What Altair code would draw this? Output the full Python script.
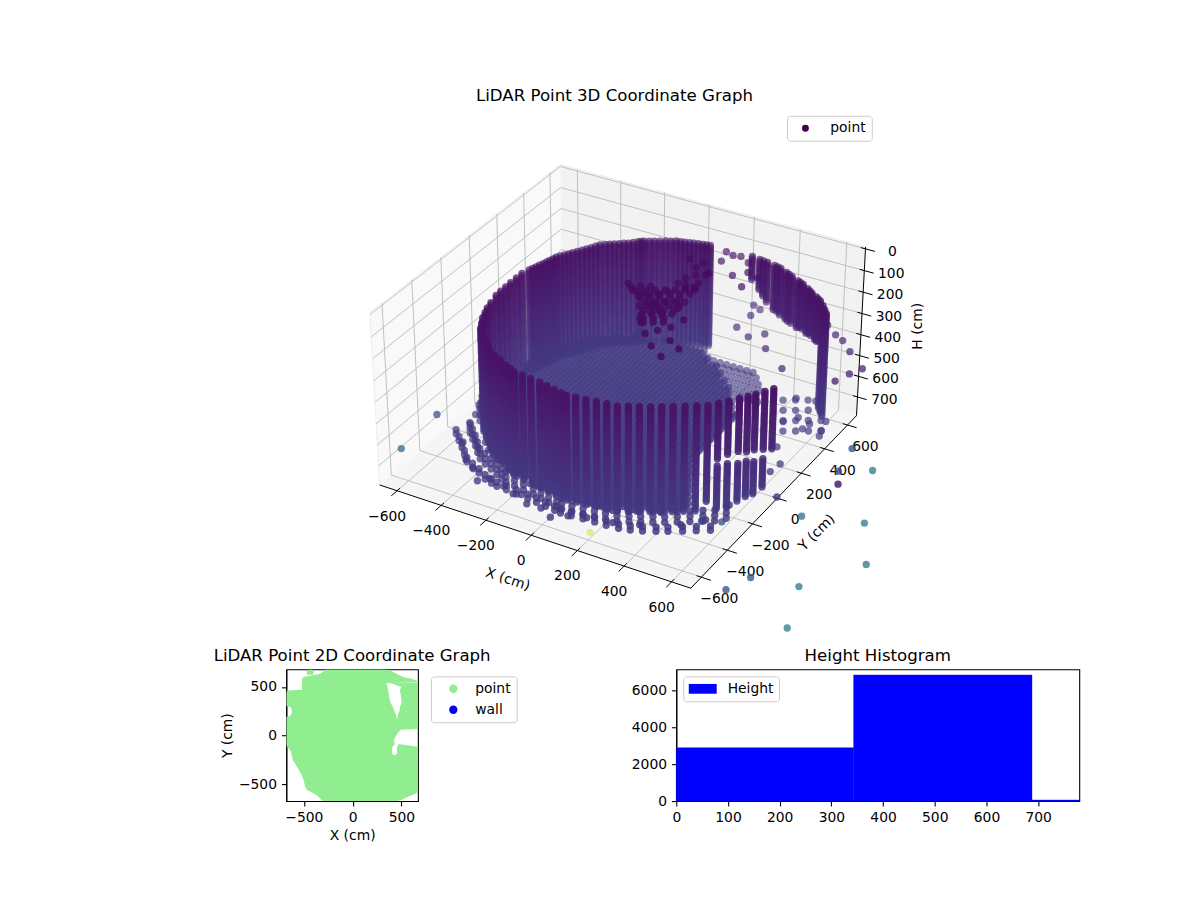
import numpy as np
import altair as alt

FONT = "DejaVu Sans"
TICK = 13.9
HEAD = 16.67

# ---------- 3D axes ----------
XLIM = (-680.0, 680.0)
YLIM = (-680.0, 680.0)
ZTOP, ZBOT = -9.0, 792.0
x_ticks = [-600, -400, -200, 0, 200, 400, 600]
y_ticks = [-600, -400, -200, 0, 200, 400, 600]
z_ticks = [0, 100, 200, 300, 400, 500, 600, 700]

# ---------- wall columns: X, Y, top H, bottom H ----------
wall_x = [-442,-460,-478,-490,-503,-512,-523,-526,-527,-528,-528,-528,-518,-508,-497,-488,-479,-461,-442,-420,-400,-381,-350,-320,-290,-262,-245,-210,-172,-135,-100,-65,-30,0,
          -412,-382,-352,-323,-290,-255,-220,-190,-166,-130,-90,-47,-12,24,60,83,120,160,200,240,281,317,352,388,423,458,494,530,564,590,615,640,660,678,698,717,
          185,222,260,295,327,360,395,430,460,490,520,548,575,600,620,639,
          590,615,640,660,678,698,
          -227,-191,-153,-117,-82,-47,-15,
          241,311,377,445,505,561,
          -513,-503,-492,-483,-470,-451,-431,-410,-390,-365,-335,-305,-276,-253]
wall_y = [-304,-268,-232,-196,-160,-120,-64,-26,12,50,92,133,170,205,240,275,310,342,375,410,446,482,507,530,552,580,596,617,640,661,670,680,690,697,
          -334,-364,-396,-426,-445,-462,-482,-497,-508,-512,-518,-524,-532,-540,-548,-553,-548,-542,-535,-529,-523,-505,-486,-467,-448,-425,-402,-378,-356,-324,-292,-256,-228,-202,-168,-135,
          702,695,688,680,672,655,636,618,603,582,560,541,522,495,470,446,
          -324,-292,-256,-228,-202,-168,
          606,628,650,665,675,685,693,
          691,676,645,610,571,531,
          188,222,258,292,326,358,392,428,464,495,518,541,566,588]
wall_top = [190]*86 + [470,470,480,480,490,490] + [190]*27
wall_bot = ([680]*34 + [680]*28 + [640,450,440,440,445,450,455,470]
            + [300,340,380,400,410,410,410,410,405,400,395,390,385,680,680,680] + [680,680,670,660,650,640]
            + [680]*7 + [360,405,410,408,398,388] + [680]*14)
wall_levels = [190,201,212,223,234,245,256,267,278,289,300,311,322,333,344,355,366,377,388,399,410,421,432,443,454,465,476,487,498,509,520,531,542,553,564,575,586,597,608,619,630,641,652,663,674]

# ---------- skirt of floor returns outside the wall ----------
ringA_x = [-486,-453,-420,-387,-355,-319,-281,-242,-209,-183,-143,-99,-52,-13,26,66,91,132,176,220,264,309,349,387,427,465,504,543,583,620,649]
ringA_y = [-334,-367,-400,-436,-469,-490,-508,-530,-547,-559,-563,-570,-576,-585,-594,-603,-608,-603,-596,-588,-582,-575,-555,-535,-514,-493,-468,-442,-416,-392,-356]
ringA_levels = [630,655,680]
ringB_x = [-530,-494,-458,-422,-388,-348,-306,-264,-228,-199,-156,-108,-56,-14,29,72,100,144,192,240,288,337,380,422,466,504,550,592,636]
ringB_y = [-365,-401,-436,-475,-511,-534,-554,-578,-590,-598,-600,-606,-610,-616,-622,-628,-632,-628,-624,-620,-618,-612,-600,-583,-560,-538,-510,-482,-454]
ringB_levels = [660,680]
ringW_x = [-500,-520,-540,-560,-575,-585,-590,-600,-610,-620]
ringW_y = [-240,-200,-160,-120,-80,-40,0,40,80,120]
ringW_levels = [620,650,680]

# ---------- floor rows ----------
floor_h = 680
floor_row_y = [-520,-480,-440,-400,-360,-320,-280,-240,-200,-160,-120,-80,-40,0,40,80,120,160,200,240,280,320,360,400,440,480,520,560,600,640]
floor_row_x0 = [-100,-230,-310,-360,-400,-420,-440,-460,-480,-490,-500,-510,-515,-520,-520,-520,-530,-540,-560,-560,-560,-550,-530,-510,-490,-460,-420,-370,-300,-180]
floor_row_x1 = [260,340,420,470,480,470,450,430,400,380,360,350,350,350,350,350,350,350,350,350,340,300,280,250,220,180,140,100,50,0]
floor_row_step = [0, 20]
floor_col_x = [-600,-580,-560,-540,-520,-500,-480,-460,-440,-420,-400,-380,-360,-340,-320,-300,-280,-260,-240,-220,-200,-180,-160,-140,-120,-100,-80,-60,-40,-20,0,20,40,60,80,100,120,140,160,180,200,220,240,260,280,300,320,340,360,380,400,420,440,460,480,500,520,540,560,580,600,620,640,660,680,700]
finger_y = [610,580,540,500,460,420]
finger_x0 = [40,90,130,170,200,240]
finger_x1 = [250,300,330,340,350,380]
finger_x = [40,70,100,130,160,190,220,250,280,310,340,370]

# ---------- scattered returns: furniture, skirt, gaps ----------
extra_x = [-56,-16,21,64,86,108,107,140,173,114,125,172,134,173,261,246,88,118,138,348,317,185,40,100,150,200,
           -6,27,59,92,124,157,189,38,71,103,136,168,65,98,130,163,195,103,136,168,201,131,170,203,137,170,56,115,109,173,175,115,249,291,214,
           24,57,89,122,154,187,69,101,134,166,199,96,128,160,193,124,156,189,-36,-4,29,150,182,
           -476,-567,-617,-283,-251,-178,-40,82,134,-520,-540,-590,-400,-340,-120,-90,20,200,300,
           393,524,588,617,657,746,644,586,652,523,612,692,666,488,565,560,620,680,
           450,485,520,554,492,527,562,596,535,570,604,639,577,612,647,681,
           79,116,146,98,196,230,189,262,283,
           174,213,202,197,271,317,372,496,
           535,595,639,700,798,772,748]
extra_y = [141,104,82,81,120,159,238,239,241,-64,-4,-3,88,111,6,-64,35,52,-85,-187,-266,-152,110,60,20,70,
           110,129,148,168,187,206,225,66,85,104,123,142,13,32,51,70,89,-35,-15,4,23,-89,-66,-46,325,344,425,426,378,363,277,286,-219,-151,-109,
           93,112,131,150,169,189,49,68,88,107,126,-5,14,34,53,-58,-39,-19,126,146,165,219,238,
           -402,-143,2,-603,-566,-584,-643,-675,-635,-280,-210,-60,-500,-540,-610,-600,-640,-610,-590,
           -553,-476,-403,-272,-162,-136,5,171,71,344,335,321,428,523,542,400,380,360,
           484,417,350,283,509,442,375,308,534,467,400,333,558,491,425,358,
           683,670,679,607,647,580,529,468,559,
           747,728,669,561,518,570,472,371,
           681,630,604,543,453,394,320]
extra_h = [100]*84 + [680]*19 + [680]*18 + [680]*16 + [190]*9 + [450]*8 + [400]*7

# ---------- outliers beyond the box ----------
out_x = [-745,-760,185,413,542,509,578,820,800,841,1020,1100,1045,1170,914,776,802,841]
out_y = [-432,-154,-562,-313,-252,-288,-255,-71,-633,-520,-483,-730,6,-234,345,446,275,193]
out_h = [785]*18
out_c = [0.35,0.27,0.92,0.92,0.92,0.30,0.27,0.36,0.27,0.29,0.40,0.40,0.40,0.38,0.40,0.27,0.22,0.08]
out_a = [0.75,0.75,0.45,0.45,0.45,0.8,0.8,0.75,0.8,0.8,0.75,0.75,0.75,0.75,0.75,0.8,0.8,0.85]

# ---------- 2D panel outline pieces: Y, left X, right X ----------
main_y = [680,670,636,602,585,568,545,540,499,470,462,431,397,363,328,300,294,260,226,200,192,165,157,66,60,21,-14,-48,-82,-100,-116,-150,-185,-200,-219,-253,-287,-321,-356,-390,-424,-458,-492,-527,-561,-595,-629,-663,-674]
main_x0 = [-290,-282,-333,-503,-518,-520,-520,-520,-520,-520,-673,-680,-680,-680,-680,-680,-635,-622,-625,-640,-680,-680,-680,-680,-680,-680,-680,-680,-680,-680,-673,-640,-629,-625,-620,-615,-590,-571,-550,-530,-515,-503,-495,-486,-469,-401,-350,-320,-300]
main_x1 = [350,381,449,517,590,651,669,345,357,362,364,370,375,381,392,408,412,425,439,446,449,456,669,669,490,460,440,422,432,425,405,405,402,420,669,669,669,669,669,669,669,669,669,669,669,653,568,500,450]
lobe_y = [540,534,499,465,431,397,363,328,294,260,226,192,165,120]
lobe_x0 = [360,398,500,483,490,495,500,500,483,483,466,460,456,456]
lower_y = [-89,-100,-116,-150,-185,-219]
lower_x0 = [466,466,455,455,455,420]
lower_x1 = [480,560,669,669,669,669]
cap_y = [680,670,636,625]
cap_x0 = [-440,-469,-469,-469]
cap_x1 = [-420,-401,-401,-410]
legend2d = ["point", "wall"]

# ---------- histogram ----------
hist_x0 = [0, 343, 688]
hist_x1 = [343, 688, 779.5]
hist_n = [2883, 6810, 54]


# ---------- mplot3d style projection ----------
box = np.array([4.0, 4.0, 2.4])
el, az, dist = np.radians(33), np.radians(-60), 10.0
box = box * 1.8294640721620434 * 25 / 24 / np.linalg.norm([4.0, 4.0, 3.0])
w = np.array([np.cos(el)*np.cos(az), np.cos(el)*np.sin(az), np.sin(el)])
u = np.cross([0, 0, 1], w); u = u/np.linalg.norm(u)
v = np.cross(w, u)


def raw(X, Y, H):
    P = np.stack([
        (np.asarray(X, float)-XLIM[0])/(XLIM[1]-XLIM[0])*box[0],
        (np.asarray(Y, float)-YLIM[0])/(YLIM[1]-YLIM[0])*box[1],
        (ZBOT-np.asarray(H, float))/(ZBOT-ZTOP)*box[2]], -1) - box/2
    d = dist - P @ w
    return (P @ u)/d, (P @ v)/d, d


anchors = [((XLIM[0], YLIM[0], ZBOT), (378, 487)), ((XLIM[1], YLIM[0], ZBOT), (691, 587)),
           ((XLIM[1], YLIM[1], ZBOT), (857, 419)), ((XLIM[1], YLIM[1], ZTOP), (865, 245)),
           ((XLIM[0], YLIM[1], ZTOP), (560, 166)), ((XLIM[0], YLIM[0], ZTOP), (369, 308))]
Ax, bx, Ay, by_ = [], [], [], []
for (p, q) in anchors:
    a0, a1, _ = raw(*p)
    Ax.append([a0, 1]); bx.append(q[0])
    Ay.append([-a1, 1]); by_.append(q[1])
SX, TX = np.linalg.lstsq(np.array(Ax), np.array(bx, float), rcond=None)[0]
SY, TY = np.linalg.lstsq(np.array(Ay), np.array(by_, float), rcond=None)[0]


def proj(X, Y, H):
    a0, a1, d = raw(X, Y, H)
    return SX*a0+TX, TY-SY*a1, d


# ---------- point table ----------
tx, ty, th = [], [], []
for cx, cy, t, bt in zip(wall_x, wall_y, wall_top, wall_bot):
    for lv in wall_levels:
        if t <= lv <= bt:
            tx.append(cx); ty.append(cy); th.append(lv)
for ring_x, ring_y, levels in [(ringA_x, ringA_y, ringA_levels), (ringB_x, ringB_y, ringB_levels), (ringW_x, ringW_y, ringW_levels)]:
    for cx, cy in zip(ring_x, ring_y):
        for lv in levels:
            tx.append(cx); ty.append(cy); th.append(lv)
for ry, a0, a1 in zip(floor_row_y, floor_row_x0, floor_row_x1):
    for off in floor_row_step:
        for gx in floor_col_x:
            if a0 <= gx <= a1:
                tx.append(gx); ty.append(ry+off); th.append(floor_h)
for ry, a0, a1 in zip(finger_y, finger_x0, finger_x1):
    for gx in finger_x:
        if a0 <= gx <= a1:
            tx.append(gx); ty.append(ry); th.append(floor_h)
tx += extra_x; ty += extra_y; th += extra_h
n_in = len(tx)
allx = np.array(tx+out_x, float)
ally = np.array(ty+out_y, float)
allh = np.array(th+out_h, float)
allc = np.concatenate([allh[:n_in]/4000.0, np.array(out_c)])
px, py, dp = proj(allx, ally, allh)
order = np.argsort(-dp)
dn = (dp-dp.min())/(dp.max()-dp.min())
alpha = 0.95-0.4*dn
alpha[n_in:] = out_a
points = [{"px": round(float(px[i]), 1), "py": round(float(py[i]), 1), "c": round(float(allc[i]), 3), "a": round(float(alpha[i]), 2)} for i in order]

sx = alt.Scale(domain=[9, 1193], nice=False, zero=False)
sy = alt.Scale(domain=[648, 8], nice=False, zero=False)


def X(f="px"):
    return alt.X(f"{f}:Q", scale=sx, axis=None)


def Y(f="py"):
    return alt.Y(f"{f}:Q", scale=sy, axis=None)


def pane(corners, color):
    pts = [proj(*c)[:2] for c in corners]
    xs = sorted(set(float(p[0]) for p in pts))
    rows = []
    n = len(pts)
    for x0 in xs:
        ys = []
        for i in range(n):
            (a, ay), (b2, by) = pts[i], pts[(i+1) % n]
            lo, hi = min(a, b2), max(a, b2)
            if lo <= x0 <= hi:
                if hi == lo:
                    ys += [ay, by]
                else:
                    ys.append(ay+(x0-a)/(b2-a)*(by-ay))
        rows.append({"px": x0, "py": float(min(ys)), "py2": float(max(ys))})
    return alt.Chart(alt.Data(values=rows)).mark_area(color=color).encode(x=X(), y=Y(), y2="py2:Q")


xa, xb = XLIM
ya, yb = YLIM
panes = [
    pane([(xa, ya, ZBOT), (xa, yb, ZBOT), (xa, yb, ZTOP), (xa, ya, ZTOP)], "#f9f9f9"),
    pane([(xa, yb, ZBOT), (xb, yb, ZBOT), (xb, yb, ZTOP), (xa, yb, ZTOP)], "#f2f2f2"),
    pane([(xa, ya, ZBOT), (xb, ya, ZBOT), (xb, yb, ZBOT), (xa, yb, ZBOT)], "#f5f5f5"),
]


def seg(a, b2):
    p, q = proj(*a), proj(*b2)
    return {"px": float(p[0]), "py": float(p[1]), "px2": float(q[0]), "py2": float(q[1])}


edge_rows = [seg((xa, ya, ZTOP), (xa, yb, ZTOP)), seg((xa, yb, ZTOP), (xb, yb, ZTOP)), seg((xa, ya, ZTOP), (xa, ya, ZBOT))]
grid_rows = []
for t in x_ticks:
    grid_rows += [seg((t, ya, ZBOT), (t, yb, ZBOT)), seg((t, yb, ZBOT), (t, yb, ZTOP))]
for t in y_ticks:
    grid_rows += [seg((xa, t, ZBOT), (xb, t, ZBOT)), seg((xa, t, ZBOT), (xa, t, ZTOP))]
for t in z_ticks:
    grid_rows += [seg((xa, ya, t), (xa, yb, t)), seg((xa, yb, t), (xb, yb, t))]
axis_rows = [seg((xa, ya, ZBOT), (xb, ya, ZBOT)), seg((xb, ya, ZBOT), (xb, yb, ZBOT)), seg((xb, yb, ZBOT), (xb, yb, ZTOP))]
tick_rows = []
label_rows = []
for t in x_ticks:
    tick_rows.append(seg((t, ya-40, ZBOT), (t, ya+20, ZBOT)))
    p = proj(t, ya, ZBOT)
    label_rows.append({"px": float(p[0])-10, "py": float(p[1])+26, "t": str(t).replace("-", "\u2212")})
for t in y_ticks:
    tick_rows.append(seg((xb+40, t, ZBOT), (xb-20, t, ZBOT)))
    p = proj(xb, t, ZBOT)
    label_rows.append({"px": float(p[0])+18, "py": float(p[1])+22, "t": str(t).replace("-", "\u2212")})
for t in z_ticks:
    tick_rows.append(seg((xb-20, yb, t), (xb+40, yb, t)))
    p = proj(xb, yb, t)
    label_rows.append({"px": float(p[0])+27, "py": float(p[1])+3, "t": str(t)})


def rules(rows, color, width):
    return alt.Chart(alt.Data(values=rows)).mark_rule(color=color, strokeWidth=width).encode(
        x=X(), y=Y(), x2="px2:Q", y2="py2:Q")


def caption(text, x0, y0, angle=0, size=TICK):
    return alt.Chart(alt.Data(values=[{"px": x0, "py": y0, "t": text}])).mark_text(
        font=FONT, fontSize=size, color="black", angle=angle, align="center", baseline="middle"
    ).encode(x=X(), y=Y(), text="t:N")


ticktext = alt.Chart(alt.Data(values=label_rows)).mark_text(
    font=FONT, fontSize=TICK, color="black", align="center", baseline="middle"
).encode(x=X(), y=Y(), text="t:N")

scatter = alt.Chart(alt.Data(values=points)).mark_circle(size=54).encode(
    x=X(), y=Y(),
    color=alt.Color("c:Q", scale=alt.Scale(scheme="viridis", domain=[0, 1]), legend=None),
    opacity=alt.Opacity("a:Q", scale=None),
)
legend_pt = alt.Chart(alt.Data(values=[{"px": 806, "py": 128, "k": "point"}])).mark_circle(size=48, opacity=1).encode(
    x=X(), y=Y(),
    color=alt.Color("k:N", scale=alt.Scale(domain=["point"], range=["#440154"]),
                    legend=alt.Legend(title=None, orient="none", legendX=778, legendY=107, padding=5.5,
                                      symbolOffset=6, symbolSize=48, labelOffset=18, symbolOpacity=1,
                                      labelFont=FONT, labelFontSize=TICK, strokeColor="#cccccc",
                                      fillColor="white", cornerRadius=3)),
)

top = alt.layer(*panes, rules(edge_rows, "#ececec", 1.0), rules(grid_rows, "#c0c0c0", 1.0), rules(axis_rows, "black", 1.0), rules(tick_rows, "black", 1.0),
                ticktext, scatter, legend_pt,
                caption("LiDAR Point 3D Coordinate Graph", 614, 95, size=HEAD),
                caption("X (cm)", 507, 580, angle=18),
                caption("Y (cm)", 817, 533, angle=315),
                caption("H (cm)", 918, 326, angle=270),
                ).resolve_scale(color="independent").properties(width=1184, height=640, view=alt.ViewBackground(stroke=None))

blank = alt.Chart(alt.Data(values=[{"a": 0}])).mark_point(opacity=0).encode(x=alt.value(0), y=alt.value(0)).properties(
    width=17, height=132, view=alt.ViewBackground(stroke=None))

sx2 = alt.Scale(domain=[-680, 669], nice=False, zero=False)
sy2 = alt.Scale(domain=[-674, 680], nice=False, zero=False)
rows2d = []
for name, ys, x0s, x1s in [("main", main_y, main_x0, main_x1),
                           ("lobe", lobe_y, lobe_x0, [669]*len(lobe_y)),
                           ("lower", lower_y, lower_x0, lower_x1),
                           ("cap", cap_y, cap_x0, cap_x1)]:
    for a, b2, c in zip(ys, x0s, x1s):
        rows2d.append({"piece": name, "y": a, "x0": b2, "x1": c})
blob = alt.Chart(alt.Data(values=rows2d)).mark_area(
    color="#90ee90", clip=True, orient="horizontal").encode(
    x=alt.X("x0:Q", scale=sx2, axis=alt.Axis(values=[-500, 0, 500], title="X (cm)")),
    x2="x1:Q",
    y=alt.Y("y:Q", scale=sy2, axis=alt.Axis(values=[-500, 0, 500], title="Y (cm)")),
    detail="piece:N",
)
blob_key = alt.Chart(alt.Data(values=[{"k": "point", "x": 0, "y": 0}, {"k": "wall", "x": 0, "y": 0}])).mark_circle(size=0, opacity=1).encode(
    x=alt.X("x:Q", scale=sx2), y=alt.Y("y:Q", scale=sy2),
    color=alt.Color("k:N", scale=alt.Scale(domain=legend2d, range=["#90ee90", "blue"]),
                    legend=alt.Legend(title=None, orient="none", legendX=145, legendY=7, padding=5.5,
                                      symbolOffset=10, symbolSize=70, labelOffset=15, rowPadding=6, symbolOpacity=1,
                                      labelFont=FONT, labelFontSize=TICK, strokeColor="#cccccc",
                                      fillColor="white", cornerRadius=3)),
)
left = alt.layer(blob, blob_key).properties(width=132, height=132,
                                            title=alt.TitleParams("LiDAR Point 2D Coordinate Graph"),
                                            view=alt.ViewBackground(stroke="black", strokeWidth=1.1))

hist = alt.Chart(alt.Data(values=[{"a": a, "b": b2, "n": c, "k": "Height"} for a, b2, c in zip(hist_x0, hist_x1, hist_n)])).mark_rect(stroke="blue", strokeWidth=0.4).encode(
    x=alt.X("a:Q", scale=alt.Scale(domain=[0, 779.5], nice=False, zero=False),
            axis=alt.Axis(values=[0, 100, 200, 300, 400, 500, 600, 700], title=None)),
    x2="b:Q",
    y=alt.Y("n:Q", scale=alt.Scale(domain=[0, 7115], nice=False),
            axis=alt.Axis(values=[0, 2000, 4000, 6000], title=None, format="d")),
    color=alt.Color("k:N", scale=alt.Scale(domain=["Height"], range=["blue"]),
                    legend=alt.Legend(title=None, orient="none", legendX=7, legendY=7, padding=5.5,
                                      symbolType="M-1,-0.7H3V0.7H-1Z", symbolSize=196, labelOffset=25,
                                      symbolStrokeWidth=0, labelFont=FONT, labelFontSize=TICK, strokeColor="#cccccc",
                                      fillColor="white", cornerRadius=3)),
).properties(width=404, height=132, title=alt.TitleParams("Height Histogram"),
             view=alt.ViewBackground(stroke="black", strokeWidth=1.1))

bottom = alt.hconcat(blank, left, hist, spacing=259, bounds="flush").resolve_scale(color="independent")
chart = alt.vconcat(top, bottom, spacing=22, bounds="flush").resolve_scale(color="independent").properties(padding=0, background="white").configure_axis(
    labelFont=FONT, titleFont=FONT, labelFontSize=TICK, titleFontSize=TICK, titleFontWeight="normal",
    labelColor="black", titleColor="black", tickColor="black", domainColor="black", grid=False,
    tickSize=4.9, tickWidth=1.1, domainWidth=1.1, labelPadding=4.9, titlePadding=4, labelFlush=False, labelOverlap=False,
).configure_title(font=FONT, fontSize=HEAD, fontWeight="normal", color="black", offset=5, anchor="middle").configure_legend(
    labelColor="black"
)

chart.save("out.html", embed_options={"renderer": "svg", "actions": False})
